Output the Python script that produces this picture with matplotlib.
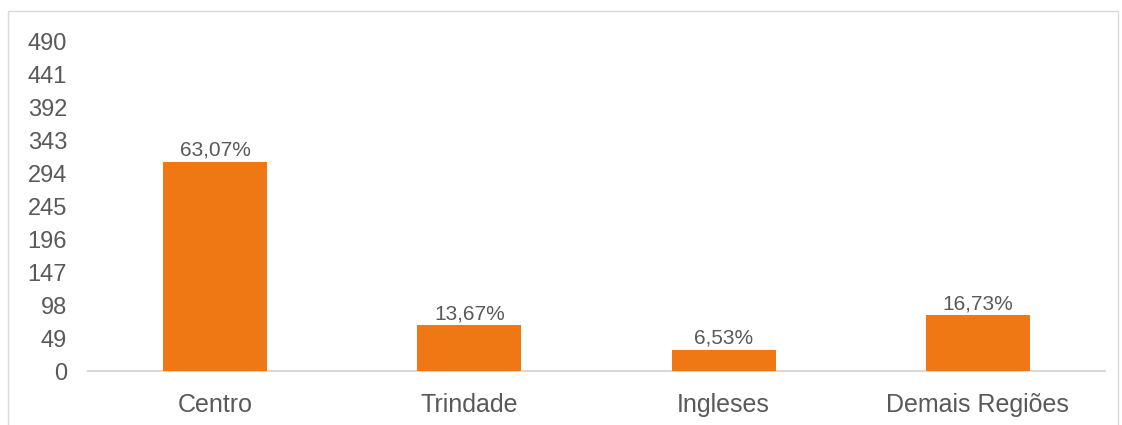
import numpy as np
import matplotlib.pyplot as plt
from matplotlib.patches import Rectangle

plt.rcParams['font.family'] = ['Liberation Sans', 'DejaVu Sans']

categories = ["Centro", "Trindade", "Ingleses", "Demais Regiões"]
values = [312, 68, 32, 83]
pct_labels = ["63,07%", "13,67%", "6,53%", "16,73%"]
yticks = [0, 49, 98, 147, 196, 245, 294, 343, 392, 441, 490]

text_col = "#595959"
bar_col = "#F07814"

fig = plt.figure(figsize=(11.22, 4.25), dpi=100)
# outer border of the chart area (bottom edge runs off the image)
fig.patches.append(Rectangle((8 / 1122, -0.05), 1110 / 1122, (425 - 11) / 425 + 0.05,
                             transform=fig.transFigure, fill=False,
                             edgecolor="#D9D9D9", linewidth=1))

ax = fig.add_axes([88 / 1122, (425 - 371) / 425, (1105 - 88) / 1122, (371 - 42) / 425])

x = np.arange(len(categories))
bars = ax.bar(x, values, width=0.41, color=bar_col, zorder=3)

for b, lab in zip(bars, pct_labels):
    ax.text(b.get_x() + b.get_width() / 2, b.get_height() + 3, lab,
            ha="center", va="bottom", fontsize=15, color=text_col)

ax.set_xlim(-0.5, len(categories) - 0.5)
ax.set_ylim(0, 490)
ax.set_yticks(yticks)
ax.set_xticks(x)
ax.set_xticklabels(categories, fontsize=18, color=text_col)
ax.tick_params(axis="y", labelsize=17, labelcolor=text_col, length=0, pad=15)
ax.tick_params(axis="x", length=0, pad=16)

for s in ["top", "right", "left"]:
    ax.spines[s].set_visible(False)
ax.spines["bottom"].set_color("#D9D9D9")
ax.spines["bottom"].set_linewidth(1.5)

fig.savefig("out.png", dpi=100)
